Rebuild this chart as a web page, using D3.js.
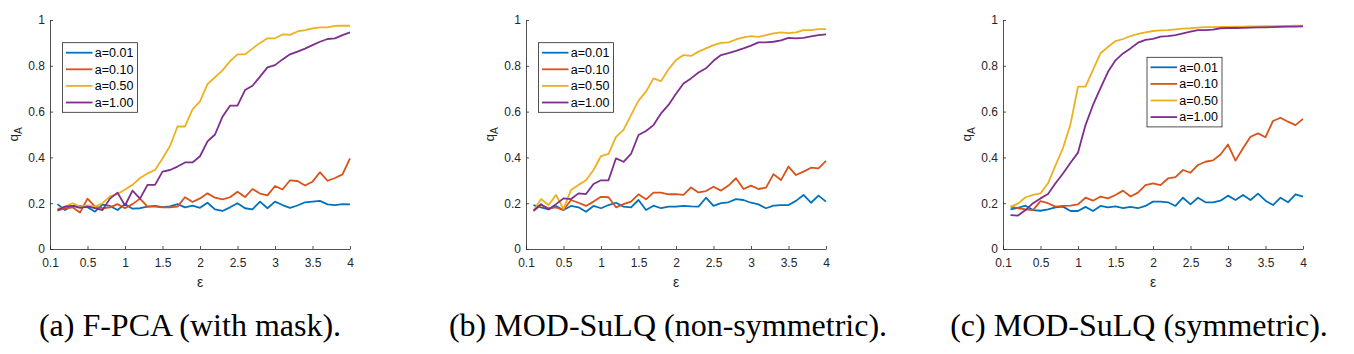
<html>
<head>
<script src="https://d3js.org/d3.v7.min.js"></script>
<style>
body { margin: 0; background: #fff; }
.axis text { font-family: "Liberation Sans", Arial, sans-serif; font-size: 12px; fill: #262626; }
.axis path, .axis line { stroke: #262626; stroke-width: 0.8px; }
.lab { font-family: "Liberation Sans", Arial, sans-serif; fill: #262626; }
.legend text { font-family: "Liberation Sans", Arial, sans-serif; font-size: 12.5px; fill: #000; }
.caption { font-family: "Liberation Serif", "Times New Roman", serif; font-size: 32px; fill: #000; }
</style>
</head>
<body>
<div id="chart"></div>
<script>
// epsilon values (x) shared by every series
const eps = [0.1,0.2,0.3,0.4,0.5,0.6,0.7,0.8,0.9,1.0,1.1,1.2,1.3,1.4,1.5,1.6,1.7,1.8,1.9,2.0,
             2.1,2.2,2.3,2.4,2.5,2.6,2.7,2.8,2.9,3.0,3.1,3.2,3.3,3.4,3.5,3.6,3.7,3.8,3.9,4.0];
const xTicks = [0, 0.5, 1, 1.5, 2, 2.5, 3, 3.5, 4];
const xTickLabels = ["0.1", "0.5", "1", "1.5", "2", "2.5", "3", "3.5", "4"];
const yTicks = [0, 0.2, 0.4, 0.6, 0.8, 1];
const yTickLabels = ["0", "0.2", "0.4", "0.6", "0.8", "1"];
const seriesNames = ["a=0.01", "a=0.10", "a=0.50", "a=1.00"];
const captions = ["(a) F-PCA (with mask).", "(b) MOD-SuLQ (non-symmetric).", "(c) MOD-SuLQ (symmetric)."];

// (a) F-PCA with mask
const pcaA001 = [0.196,0.17,0.188,0.188,0.182,0.163,0.194,0.188,0.17,0.196,0.176,0.178,0.185,0.188,0.183,0.186,0.196,0.182,0.189,0.18,
                 0.202,0.173,0.166,0.182,0.2,0.178,0.173,0.207,0.178,0.207,0.192,0.18,0.19,0.204,0.207,0.21,0.195,0.192,0.196,0.195];
const pcaA010 = [0.167,0.178,0.182,0.159,0.22,0.185,0.178,0.182,0.196,0.178,0.196,0.22,0.185,0.185,0.182,0.182,0.185,0.226,0.205,0.221,
                 0.243,0.224,0.217,0.226,0.25,0.227,0.262,0.242,0.234,0.275,0.26,0.3,0.297,0.277,0.294,0.335,0.298,0.31,0.326,0.396];
const pcaA050 = [0.175,0.185,0.2,0.185,0.19,0.185,0.2,0.23,0.24,0.26,0.28,0.31,0.33,0.345,0.395,0.45,0.535,0.535,0.61,0.645,
                 0.72,0.75,0.78,0.82,0.85,0.85,0.875,0.9,0.92,0.92,0.937,0.935,0.95,0.956,0.963,0.968,0.968,0.974,0.975,0.975];
const pcaA100 = [0.17,0.185,0.188,0.18,0.185,0.178,0.17,0.22,0.246,0.19,0.255,0.22,0.28,0.28,0.338,0.345,0.36,0.378,0.378,0.405,
                 0.47,0.5,0.578,0.626,0.626,0.694,0.713,0.753,0.793,0.803,0.828,0.85,0.862,0.875,0.89,0.905,0.917,0.92,0.934,0.946];

// (b) MOD-SuLQ non-symmetric
const nsA001 = [0.192,0.182,0.173,0.188,0.17,0.188,0.182,0.163,0.188,0.178,0.192,0.202,0.185,0.182,0.214,0.17,0.189,0.178,0.185,0.185,
                0.188,0.186,0.185,0.224,0.188,0.2,0.204,0.218,0.214,0.202,0.195,0.178,0.189,0.192,0.192,0.21,0.236,0.202,0.233,0.207];
const nsA010 = [0.167,0.192,0.178,0.182,0.17,0.214,0.202,0.188,0.207,0.228,0.226,0.182,0.196,0.207,0.239,0.217,0.246,0.246,0.239,0.24,
                0.236,0.269,0.247,0.253,0.272,0.255,0.277,0.309,0.262,0.277,0.262,0.268,0.327,0.301,0.36,0.323,0.338,0.355,0.352,0.385];
const nsA050 = [0.167,0.218,0.192,0.236,0.175,0.258,0.28,0.3,0.345,0.406,0.415,0.49,0.52,0.585,0.648,0.687,0.745,0.733,0.785,0.825,
                0.847,0.843,0.862,0.876,0.89,0.9,0.902,0.915,0.924,0.93,0.926,0.934,0.942,0.946,0.943,0.946,0.956,0.956,0.96,0.96];
const nsA100 = [0.167,0.196,0.173,0.196,0.221,0.218,0.243,0.24,0.284,0.3,0.3,0.396,0.381,0.415,0.498,0.515,0.541,0.592,0.629,0.678,
                0.723,0.745,0.771,0.789,0.822,0.847,0.855,0.865,0.876,0.888,0.902,0.902,0.905,0.911,0.922,0.92,0.922,0.928,0.934,0.937];

// (c) MOD-SuLQ symmetric
const symA001 = [0.173,0.18,0.189,0.17,0.167,0.173,0.182,0.185,0.166,0.166,0.184,0.166,0.188,0.182,0.186,0.178,0.184,0.178,0.188,0.207,
                 0.207,0.204,0.188,0.224,0.195,0.224,0.204,0.204,0.211,0.233,0.214,0.236,0.214,0.242,0.211,0.192,0.224,0.204,0.239,0.229];
const symA010 = [0.185,0.178,0.173,0.17,0.209,0.2,0.185,0.188,0.189,0.195,0.224,0.211,0.229,0.221,0.236,0.255,0.229,0.246,0.279,0.287,
                 0.279,0.308,0.314,0.345,0.333,0.367,0.381,0.387,0.413,0.456,0.386,0.44,0.49,0.505,0.488,0.559,0.573,0.556,0.541,0.568];
const symA050 = [0.185,0.198,0.226,0.236,0.243,0.287,0.365,0.441,0.545,0.709,0.709,0.782,0.855,0.882,0.908,0.917,0.93,0.939,0.946,0.952,
                 0.955,0.956,0.959,0.962,0.964,0.967,0.969,0.969,0.97,0.97,0.971,0.971,0.972,0.972,0.973,0.973,0.974,0.974,0.975,0.975];
const symA100 = [0.148,0.146,0.17,0.2,0.221,0.24,0.287,0.33,0.377,0.421,0.541,0.629,0.702,0.774,0.824,0.854,0.876,0.901,0.913,0.918,
                 0.927,0.93,0.934,0.942,0.949,0.956,0.956,0.958,0.964,0.965,0.965,0.966,0.967,0.968,0.968,0.969,0.97,0.971,0.971,0.972];

const colors = ["#0072BD", "#D95319", "#EDB120", "#7E2F8E"];

const panels = [
    {left: 50,   series: [pcaA001, pcaA010, pcaA050, pcaA100], legX: 12.5, legY: 42.7, capX: 190},
    {left: 526,  series: [nsA001, nsA010, nsA050, nsA100],     legX: 12.5, legY: 42.7, capX: 668},
    {left: 1003, series: [symA001, symA010, symA050, symA100], legX: 144,  legY: 57.3, capX: 1139}
];

var W = 1354, H = 354;
var plotTop = 20, plotBottom = 249, plotW = 300;

const svg = d3.select("#chart").append("svg")
    .attr("width", W).attr("height", H);

panels.forEach((p, k) => {
    var x = d3.scaleLinear().domain([0, 4]).range([p.left, p.left + plotW]);
    var y = d3.scaleLinear().domain([0, 1]).range([plotBottom, plotTop]);

    svg.append("g") // y axis
        .attr("class", "axis")
        .attr("transform", "translate(" + p.left + ",0)")
        .call(d3.axisLeft(y).tickValues(yTicks).tickFormat((d, i) => yTickLabels[i])
            .tickSizeInner(-3).tickSizeOuter(0).tickPadding(5));

    svg.append("g") // x axis
        .attr("class", "axis")
        .attr("transform", "translate(0," + plotBottom + ")")
        .call(d3.axisBottom(x).tickValues(xTicks).tickFormat((d, i) => xTickLabels[i])
            .tickSizeInner(-3).tickSizeOuter(0).tickPadding(9.5));

    var line = d3.line().x((d, i) => x(eps[i])).y(d => y(d));

    p.series.forEach((s, j) => {
        svg.append("path")
            .datum(s)
            .attr("d", line)
            .attr("fill", "none")
            .attr("stroke", colors[j])
            .attr("stroke-width", 1.8)
            .attr("stroke-linejoin", "round");
    });

    // axis labels
    svg.append("text")
        .attr("class", "lab")
        .attr("x", p.left + plotW / 2)
        .attr("y", 287)
        .attr("text-anchor", "middle")
        .style("font-size", "14px")
        .text("ε");

    var yl = svg.append("text")
        .attr("class", "lab")
        .attr("transform", "translate(" + (p.left - 32) + "," + ((plotTop + plotBottom) / 2) + ") rotate(-90)")
        .attr("text-anchor", "middle")
        .style("font-size", "13.5px");
    yl.append("tspan").text("q");
    yl.append("tspan").attr("dy", 4).style("font-size", "10px").text("A");

    // legend
    var lg = svg.append("g")
        .attr("class", "legend")
        .attr("transform", "translate(" + (p.left + p.legX) + "," + p.legY + ")");
    lg.append("rect")
        .attr("width", 75).attr("height", 69.6)
        .attr("fill", "#fff").attr("stroke", "#262626").attr("stroke-width", 0.8);
    seriesNames.forEach((n, j) => {
        var ry = 10 + j * 16.6;
        lg.append("line")
            .attr("x1", 3.5).attr("x2", 30).attr("y1", ry).attr("y2", ry)
            .attr("stroke", colors[j]).attr("stroke-width", 1.8);
        lg.append("text")
            .attr("x", 32.3).attr("y", ry).attr("dy", "0.35em")
            .text(n);
    });

    svg.append("text")
        .attr("class", "caption")
        .attr("x", p.capX)
        .attr("y", 336)
        .attr("text-anchor", "middle")
        .text(captions[k]);
});
</script>
</body>
</html>
